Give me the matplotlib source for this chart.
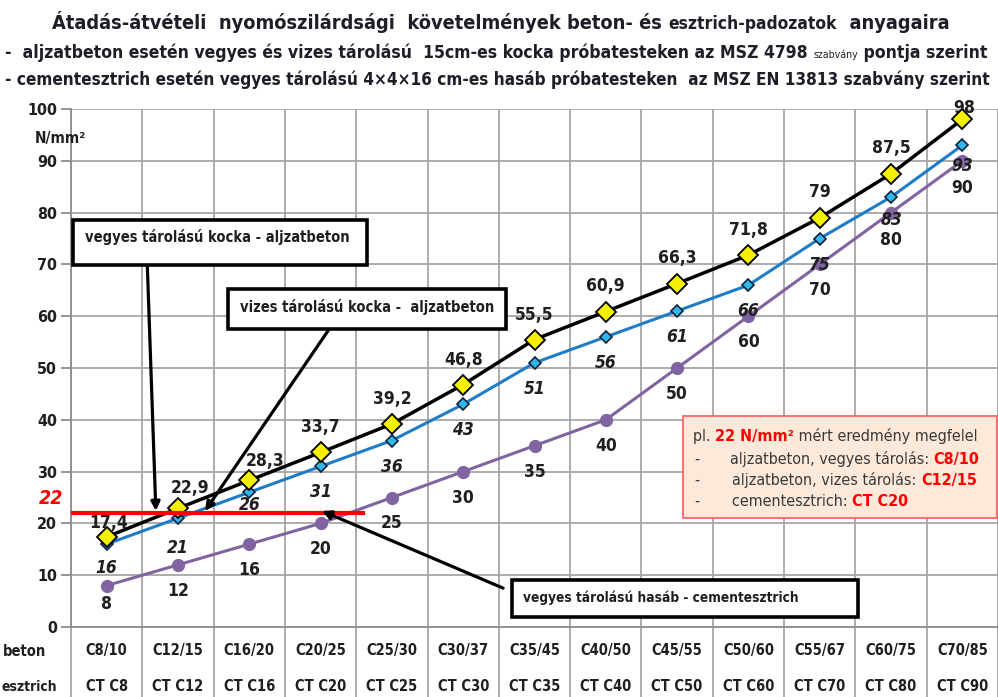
import matplotlib
matplotlib.use('Agg')
import matplotlib.pyplot as plt
from matplotlib import font_manager
from matplotlib.font_manager import FontProperties
from matplotlib.patches import Rectangle
import numpy as np

# categories (two rows of the data table under the chart)
beton = ['C8/10', 'C12/15', 'C16/20', 'C20/25', 'C25/30', 'C30/37', 'C35/45',
         'C40/50', 'C45/55', 'C50/60', 'C55/67', 'C60/75', 'C70/85']
esztrich = ['CT C8', 'CT C12', 'CT C16', 'CT C20', 'CT C25', 'CT C30', 'CT C35',
            'CT C40', 'CT C50', 'CT C60', 'CT C70', 'CT C80', 'CT C90']

# N/mm2 values
vegyes_kocka = [17.4, 22.9, 28.3, 33.7, 39.2, 46.8, 55.5, 60.9, 66.3, 71.8, 79, 87.5, 98]
vizes_kocka = [16, 21, 26, 31, 36, 43, 51, 56, 61, 66, 75, 83, 93]
vegyes_hasab = [8, 12, 16, 20, 25, 30, 35, 40, 50, 60, 70, 80, 90]
limit = 22

W, H = 998, 697
SANS = 'Liberation Sans'


def narrow_file(bold, italic=False):
    # look for a condensed / narrow face (Calibri-like look)
    best = None
    for f in font_manager.fontManager.ttflist:
        nm = f.name + ' ' + str(f.stretch)
        if not ('Narrow' in nm or 'ondensed' in nm):
            continue
        w = f.weight if isinstance(f.weight, int) else (700 if 'bold' in str(f.weight) else 400)
        if (w >= 600) != bold:
            continue
        if (f.style != 'normal') != italic:
            continue
        if best is None or 'Liberation' in f.name:
            best = f.fname
    return best


NB = narrow_file(True)
NR = narrow_file(False)
NBI = narrow_file(True, True)


def fp(weight='bold', size=10, style='normal'):
    if style == 'italic':
        if NBI:
            return FontProperties(fname=NBI, size=size)
        return FontProperties(family=SANS, weight=weight, style=style, size=size)
    path = NB if weight == 'bold' else NR
    if path:
        return FontProperties(fname=path, size=size)
    return FontProperties(family=SANS, weight=weight, size=size)


DARK = '#1f1f1f'
RED = '#ff0000'

fig = plt.figure(figsize=(W / 100, H / 100), dpi=100)
ax = fig.add_axes([71 / W, 70 / H, 927 / W, 518 / H])
x = np.arange(len(beton))
renderer = fig.canvas.get_renderer()


def fmt(v):
    return ('%g' % v).replace('.', ',')


# grid / axes
ax.set_xlim(-0.5, len(beton) - 0.5)
ax.set_ylim(0, 100)
ax.set_yticks(range(0, 101, 10))
ax.set_xticks([])
ax.set_xticks(np.arange(-0.5, len(beton), 1), minor=True)
ax.grid(True, which='major', axis='y', color='#a6a6a6', lw=1.3)
ax.grid(True, which='minor', axis='x', color='#a6a6a6', lw=1.3)
ax.tick_params(axis='x', which='both', length=0)
ax.tick_params(axis='y', length=7, width=1.3, color='#8c8c8c', pad=3)
for lab in ax.get_yticklabels():
    lab.set_fontproperties(fp('bold', 11.5))
    lab.set_color(DARK)
for s in ['top', 'right']:
    ax.spines[s].set_visible(False)
for s in ['left', 'bottom']:
    ax.spines[s].set_color('#8c8c8c')
    ax.spines[s].set_linewidth(1.3)

# vertical lines of the table below the plot
tr = ax.get_xaxis_transform()
for b in np.arange(-0.5, len(beton), 1):
    ax.plot([b, b], [0, -0.14], transform=tr, color='#a6a6a6', lw=1.3, clip_on=False)

for i in x:
    ax.text(i, -0.046, beton[i], transform=tr, ha='center', va='center',
            fontproperties=fp('bold', 10.5), color=DARK)
    ax.text(i, -0.115, esztrich[i], transform=tr, ha='center', va='center',
            fontproperties=fp('bold', 10.5), color=DARK)
fig.text(3 / W, 1 - 651 / H, 'beton', ha='left', va='center',
         fontproperties=fp('bold', 10.5), color=DARK)
fig.text(1 / W, 1 - 687 / H, 'esztrich', ha='left', va='center',
         fontproperties=fp('bold', 10), color=DARK)

# series
ax.plot(x, vegyes_hasab, '-o', color='#8064a2', lw=2.2, ms=8.5, zorder=3)
ax.plot(x, vizes_kocka, '-D', color='#1f7cc6', lw=2.2, ms=6.5, mfc='#2fb8ec',
        mec='#10223a', mew=1.2, zorder=4)
ax.plot(x, vegyes_kocka, '-D', color='black', lw=2.5, ms=10, mfc='#f5f000',
        mec='black', mew=1.3, zorder=5)

# data labels (offsets in pixels)
black_off = [(2, 14), (12, 20), (16, 19), (0, 25), (0, 25), (0, 25), (0, 25),
             (0, 26), (0, 26), (0, 25), (0, 26), (0, 26), (2, 11)]
blue_off = [(0, -24), (0, -30), (0, -13)] + [(0, -26)] * 8 + [(0, -23), (0, -21)]
purple_off = [(0, -18)] + [(0, -26)] * 10 + [(0, -27), (0, -27)]
for i in x:
    ax.annotate(fmt(vegyes_kocka[i]), (i, vegyes_kocka[i]), xytext=black_off[i],
                textcoords='offset pixels', ha='center', va='center',
                fontproperties=fp('bold', 12.5), color=DARK, annotation_clip=False)
    ax.annotate(fmt(vizes_kocka[i]), (i, vizes_kocka[i]), xytext=blue_off[i],
                textcoords='offset pixels', ha='center', va='center',
                fontproperties=fp('bold', 12.5, 'italic'), color=DARK,
                annotation_clip=False)
    ax.annotate(fmt(vegyes_hasab[i]), (i, vegyes_hasab[i]), xytext=purple_off[i],
                textcoords='offset pixels', ha='center', va='center',
                fontproperties=fp('bold', 12.5), color=DARK, annotation_clip=False)

# 22 N/mm2 limit line
ax.axhline(limit, xmin=0, xmax=0.315, color=RED, lw=3, zorder=6)
ax.annotate(str(limit), (0, limit), xycoords=('axes fraction', 'data'),
            xytext=(-8, 15), textcoords='offset pixels', ha='right', va='center',
            fontproperties=fp('bold', 14, 'italic'), color=RED, annotation_clip=False)
fig.text(86 / W, 1 - 138 / H, 'N/mm²', ha='right', va='center',
         fontproperties=fp('bold', 11), color=DARK)

# arrows from the callout boxes
arrows = [((0.57, 69.9), (0.69, 22.4)),
          ((3.12, 57.5), (1.38, 22.4)),
          ((5.56, 7.5), (3.02, 22.4))]
for start, tip in arrows:
    ax.annotate('', xy=tip, xytext=start,
                arrowprops=dict(arrowstyle='-|>', color='black', lw=2.3,
                                mutation_scale=13, shrinkA=0, shrinkB=0),
                zorder=7)


def box(x0, y0, x1, y1, fc, ec, lw):
    fig.add_artist(Rectangle((x0 / W, 1 - y1 / H), (x1 - x0) / W, (y1 - y0) / H,
                             transform=fig.transFigure, fc=fc, ec=ec, lw=lw))


def rich(pieces, x_px, y_px, width_px=None):
    objs = []
    for s, size, weight, color in pieces:
        objs.append(fig.text(0, 1 - y_px / H, s, fontproperties=fp(weight, size),
                             color=color, ha='left', va='baseline'))
    if width_px:
        for _ in range(4):
            total = sum(o.get_window_extent(renderer).width for o in objs)
            k = width_px / total
            for o in objs:
                o.set_fontsize(o.get_fontsize() * k)
    xx = x_px
    for o in objs:
        o.set_x(xx / W)
        xx += o.get_window_extent(renderer).width
    return objs


box(73, 220, 367, 265, 'white', 'black', 2.6)
box(228, 289, 506, 329, 'white', 'black', 2.6)
box(512, 580, 858, 617, 'white', 'black', 2.6)
rich([('vegyes tárolású kocka - aljzatbeton', 12, 'bold', DARK)], 85, 242, 265)
rich([('vizes tárolású kocka -  aljzatbeton', 12, 'bold', DARK)], 240, 312, 253)
rich([('vegyes tárolású hasáb - cementesztrich', 12, 'bold', DARK)], 523, 602, 274)

# red note box
box(683, 416, 997, 518, '#fde9d9', '#ff5a5a', 1.2)
GREY = '#3a3a3a'
first = rich([('pl. ', 12, 'normal', GREY), ('22 N/mm²', 12, 'bold', RED),
              (' mért eredmény megfelel', 12, 'normal', GREY)], 693, 441, 284)
fs = first[0].get_fontsize()
rows = [('aljzatbeton, vegyes tárolás: ', 'C8/10', 730, 464),
        ('aljzatbeton, vizes tárolás: ', 'C12/15', 732, 485),
        ('cementesztrich: ', 'CT C20', 732, 506)]
for txt, grade, x0, yb in rows:
    rich([('-', fs, 'normal', GREY)], 694, yb)
    rich([(txt, fs, 'normal', GREY), (grade, fs, 'bold', RED)], x0, yb)

# title lines
TITLE = '#1e1e28'
rich([('Átadás-átvételi  nyomószilárdsági  követelmények beton- és ', 16, 'bold', TITLE),
      ('esztrich-padozatok', 14, 'bold', TITLE),
      ('  anyagaira', 16, 'bold', TITLE)], 52, 29, 896)
rich([('-  aljzatbeton esetén vegyes és vizes tárolású  15cm-es kocka próbatesteken az MSZ 4798 ', 15, 'bold', TITLE),
      ('szabvány', 9, 'normal', TITLE),
      (' pontja szerint', 15, 'bold', TITLE)], 5, 58, 985)
rich([('- cementesztrich esetén vegyes tárolású 4×4×16 cm-es hasáb próbatesteken  az MSZ EN 13813 szabvány szerint', 15, 'bold', TITLE)],
     5, 85, 985)

fig.savefig('out.png', dpi=100)
